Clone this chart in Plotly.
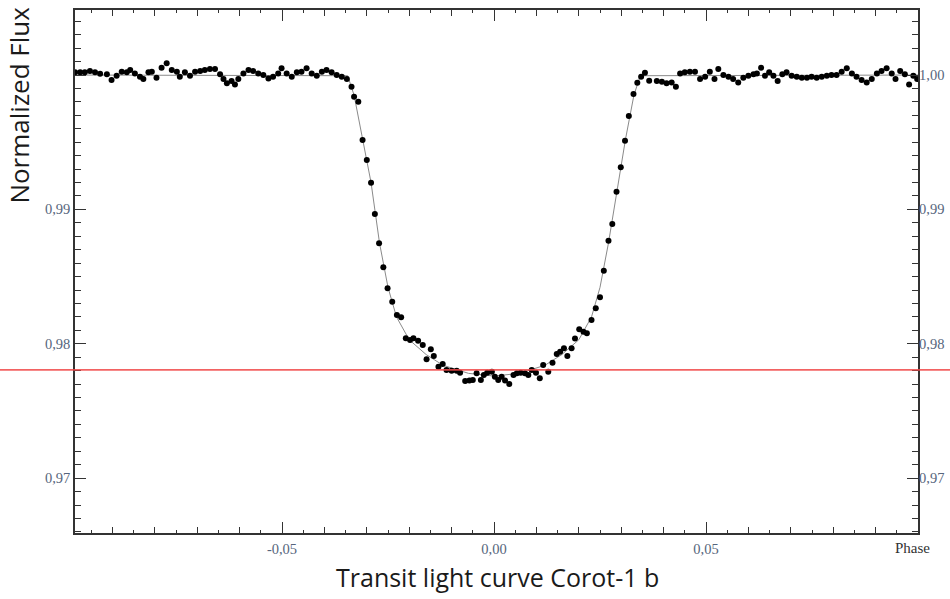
import plotly.graph_objects as go

# ---- data ----
PHASE = [
    -0.0988, -0.0976, -0.0965, -0.0953, -0.0941, -0.0929, -0.0913, -0.0902, -0.0890, -0.0878,
    -0.0866, -0.0858, -0.0847, -0.0835, -0.0827, -0.0815, -0.0807, -0.0796, -0.0784, -0.0772,
    -0.0760, -0.0748, -0.0741, -0.0729, -0.0717, -0.0705, -0.0693, -0.0682, -0.0670, -0.0658,
    -0.0646, -0.0638, -0.0630, -0.0619, -0.0611, -0.0603, -0.0591, -0.0579, -0.0568, -0.0556,
    -0.0544, -0.0532, -0.0521, -0.0509, -0.0501, -0.0489, -0.0477, -0.0465, -0.0454, -0.0442,
    -0.0430, -0.0418, -0.0406, -0.0395, -0.0383, -0.0371, -0.0359, -0.0347, -0.0336,
    -0.0330, -0.0320, -0.0310, -0.0300, -0.0290, -0.0281, -0.0271, -0.0261, -0.0251, -0.0240,
    -0.0229, -0.0219, -0.0208, -0.0198,
    -0.0190, -0.0179, -0.0168, -0.0159, -0.0149, -0.0142, -0.0131, -0.0121, -0.0112, -0.0100,
    -0.0088, -0.0080, -0.0068, -0.0058, -0.0050, -0.0041, -0.0031, -0.0024, -0.0016, -0.0005,
    0.0002, 0.0010, 0.0018, 0.0026, 0.0036, 0.0046, 0.0054, 0.0063, 0.0073, 0.0081,
    0.0089, 0.0099, 0.0108, 0.0116, 0.0128, 0.0138, 0.0148, 0.0156, 0.0165, 0.0173,
    0.0183, 0.0191, 0.0201, 0.0211, 0.0219, 0.0230, 0.0240, 0.0250, 0.0259, 0.0270,
    0.0279, 0.0289, 0.0299, 0.0309, 0.0318, 0.0329, 0.0338, 0.0347, 0.0356, 0.0366,
    0.0384, 0.0396, 0.0407, 0.0419, 0.0429, 0.0439, 0.0450, 0.0462, 0.0474, 0.0486,
    0.0498, 0.0509, 0.0520, 0.0529, 0.0541, 0.0553, 0.0564, 0.0576, 0.0588, 0.0600,
    0.0612, 0.0620, 0.0630, 0.0639, 0.0649, 0.0659, 0.0669, 0.0680, 0.0690, 0.0702,
    0.0714, 0.0726, 0.0738, 0.0749, 0.0761, 0.0773, 0.0785, 0.0796, 0.0808, 0.0820,
    0.0832, 0.0844, 0.0855, 0.0867, 0.0879, 0.0891, 0.0903, 0.0914, 0.0926, 0.0938,
    0.0947, 0.0958, 0.0969, 0.0979, 0.0989, 0.0998,
]
FLUX = [
    1.0002, 1.0002, 1.0002, 1.0003, 1.0002, 1.0001, 1.00005, 0.99963, 0.99995, 1.00025,
    1.0002, 1.00037, 1.00012, 0.99988, 0.9997, 1.0002, 1.00025, 0.9998, 1.00055, 1.00087,
    1.00037, 1.00025, 0.99988, 1.0002, 0.99995, 1.00025, 1.0003, 1.00037, 1.00045, 1.00045,
    1.00005, 0.9997, 0.99938, 0.99955, 0.9993, 0.9997, 1.00012, 1.00037, 1.0003, 1.00012,
    1.0, 0.99975, 0.99988, 1.00012, 1.0005, 1.00012, 0.99988, 1.0002, 1.00025, 1.0005,
    1.00012, 0.99995, 1.00025, 1.00037, 1.0002, 1.0, 0.99988, 0.9997, 0.99913,
    0.99839, 0.99801, 0.99516, 0.99368, 0.99199, 0.98966, 0.98748, 0.98569, 0.98413, 0.98313,
    0.98214, 0.98197, 0.98041, 0.98028,
    0.98041, 0.98023, 0.97991, 0.97885, 0.97959, 0.97909, 0.9783, 0.9785, 0.97805, 0.978,
    0.978, 0.97785, 0.97723, 0.97726, 0.9773, 0.9778, 0.9773, 0.97768, 0.97785, 0.97792,
    0.97755, 0.9773, 0.97755, 0.97726, 0.97701, 0.97768, 0.9778, 0.97785, 0.9778, 0.97768,
    0.97805, 0.97785, 0.97743, 0.97842, 0.97792, 0.97859, 0.97924, 0.97941, 0.97966, 0.97909,
    0.97966, 0.9804, 0.98108, 0.9809, 0.98078, 0.98177, 0.98264, 0.98346, 0.98544, 0.98767,
    0.98891, 0.99132, 0.99313, 0.99511, 0.99695, 0.99859, 0.99943, 0.99988, 1.00017, 0.99958,
    0.99955, 0.9995, 0.99938, 0.99945, 0.99913, 1.00012, 1.0002, 1.00025, 1.00025, 0.9997,
    0.99988, 1.00025, 0.9997, 1.00045, 1.0, 0.99988, 0.9997, 0.99945, 0.9998, 0.99995,
    1.00005, 1.00012, 1.00055, 0.99995, 1.0002, 0.99995, 0.99955, 1.00005, 1.0002, 0.99995,
    0.99988, 0.9998, 0.9998, 0.99988, 0.9998, 0.99988, 0.99995, 1.0, 1.0, 1.00025,
    1.0005, 1.00012, 0.99988, 0.99963, 0.99945, 0.9997, 1.00012, 1.0003, 1.0005, 1.00012,
    0.9997, 1.0003, 1.00005, 0.9993, 0.99995, 0.9997,
]

MODEL_PHASE = [-0.0990, -0.0345, -0.0330, -0.0310, -0.0290, -0.0270, -0.0250, -0.0230,
               -0.0200, -0.0160, -0.0120, -0.0060, 0.0, 0.0060, 0.0120, 0.0160, 0.0200,
               0.0230, 0.0250, 0.0270, 0.0290, 0.0310, 0.0330, 0.0345, 0.1000]
MODEL_FLUX = [1.0, 0.99995, 0.9985, 0.9953, 0.9920, 0.9875, 0.9842, 0.9820,
              0.9803, 0.9792, 0.9784, 0.9778, 0.9776, 0.9778, 0.9784, 0.9792, 0.9803,
              0.9820, 0.9842, 0.9875, 0.9915, 0.9952, 0.9985, 0.99995, 1.0]

RED_LEVEL = 0.97806

X_TICKS = [-0.05, 0.0, 0.05]
X_TICK_TEXT = ["-0,05", "0,00", "0,05"]
Y_TICKS = [0.97, 0.98, 0.99, 1.00]
Y_TICK_TEXT_LEFT = ["0,97", "0,98", "0,99", ""]
Y_TICK_TEXT_RIGHT = ["0,97", "0,98", "0,99", "1,00"]

X_RANGE = [-0.09882, 0.1]
Y_RANGE = [0.96592, 1.00484]

LABEL_FONT = dict(family="Liberation Serif", size=14.5, color="#56657c")
FRAME = "#333333"

fig = go.Figure()

# model curve (thin grey line)
fig.add_trace(go.Scatter(
    x=MODEL_PHASE, y=MODEL_FLUX, mode="lines",
    line=dict(color="#8a8a8a", width=1), hoverinfo="skip", showlegend=False,
    xaxis="x", yaxis="y"))

# data points
fig.add_trace(go.Scatter(
    x=PHASE, y=FLUX, mode="markers",
    marker=dict(color="black", size=6), showlegend=False,
    xaxis="x2", yaxis="y2"))

fig.add_shape(type="line", xref="paper", yref="y", x0=-0.2, x1=1.2,
              y0=RED_LEVEL, y1=RED_LEVEL, layer="above",
              line=dict(color="rgba(240,70,70,0.85)", width=1.6))

fig.update_layout(
    width=950, height=599,
    margin=dict(l=75, r=32, t=10, b=66, autoexpand=False),
    paper_bgcolor="white", plot_bgcolor="white",
    separators=",.",
    showlegend=False,
    xaxis=dict(range=X_RANGE, tickvals=X_TICKS, ticktext=X_TICK_TEXT,
               ticks="inside", ticklen=11, tickwidth=1.2, tickcolor=FRAME,
               showline=True, linecolor=FRAME, linewidth=1.6, mirror="ticks",
               showgrid=False, zeroline=False, tickfont=LABEL_FONT,
               ticklabelstandoff=2,
               minor=dict(dtick=0.005, tick0=0, ticks="inside", ticklen=3,
                          tickcolor=FRAME, tickwidth=1, showgrid=False)),
    xaxis2=dict(range=X_RANGE, overlaying="x", anchor="y", side="bottom",
                dtick=0.01, tick0=0, ticks="inside", ticklen=6, tickwidth=1,
                tickcolor=FRAME, showticklabels=False, showline=False,
                mirror="ticks", showgrid=False, zeroline=False),
    yaxis=dict(range=Y_RANGE, tickvals=Y_TICKS, ticktext=Y_TICK_TEXT_LEFT,
               ticks="inside", ticklen=11, tickwidth=1.2, tickcolor=FRAME,
               showline=True, linecolor=FRAME, linewidth=1.6, mirror="ticks",
               showgrid=False, zeroline=False, tickfont=LABEL_FONT,
               minor=dict(dtick=0.001, tick0=0.97, ticks="inside", ticklen=6,
                          tickcolor=FRAME, tickwidth=1, showgrid=False)),
    yaxis2=dict(range=Y_RANGE, overlaying="y", anchor="x", side="right",
                tickvals=Y_TICKS, ticktext=Y_TICK_TEXT_RIGHT, ticks="",
                showline=False, showgrid=False, zeroline=False,
                tickfont=LABEL_FONT),
    annotations=[
        dict(text="Normalized Flux", xref="paper", yref="paper",
             x=-0.0665, y=0.819, textangle=-90, showarrow=False,
             xanchor="center", yanchor="middle",
             font=dict(family="Open Sans", size=26, color="#1a1a1a")),
        dict(text="Transit light curve Corot-1 b", xref="paper", yref="paper",
             x=0.501, y=-0.084, showarrow=False, xanchor="center", yanchor="middle",
             font=dict(family="Open Sans", size=25, color="#1a1a1a")),
        dict(text="Phase", xref="paper", yref="paper",
             x=0.994, y=-0.029, showarrow=False, xanchor="center", yanchor="middle",
             font=dict(family="Liberation Serif", size=15, color="#333333")),
    ],
)

fig.write_html("out.html", config={"displayModeBar": False},
               post_script="document.body.style.margin='0';")
